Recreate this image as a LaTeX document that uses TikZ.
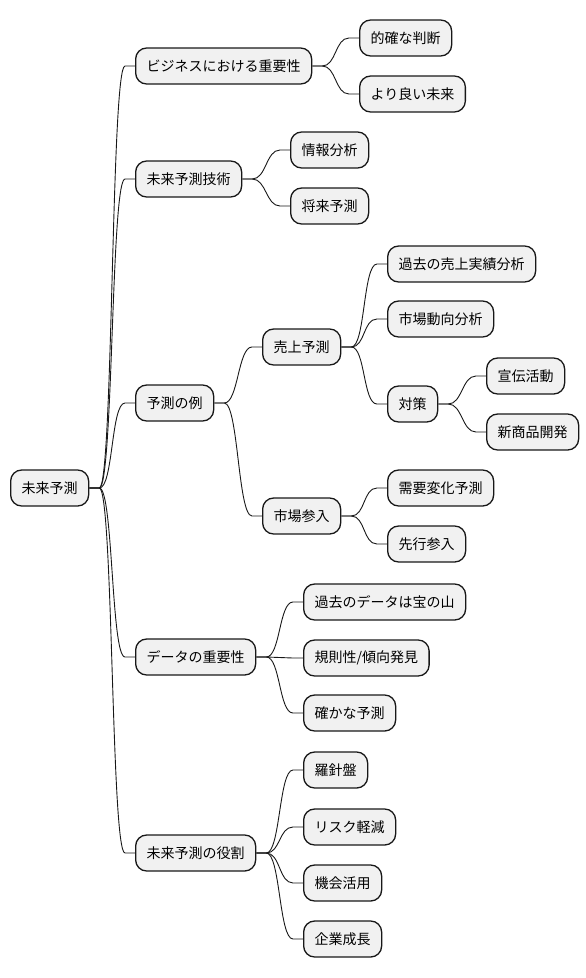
\documentclass[tikz,border=0pt]{standalone}
\usepackage{fontspec}
\setmainfont{Noto Sans CJK JP}
\definecolor{nodefill}{HTML}{F1F1F1}
\definecolor{nodeline}{HTML}{181818}
\tikzset{
  mm/.style={draw=nodeline, fill=nodefill, rounded corners=11pt, line width=1.3pt,
    minimum height=36pt, inner xsep=11pt, inner ysep=0pt,
    font=\fontsize{14pt}{17pt}\selectfont, anchor=west},
  edge/.style={draw=nodeline, line width=0.9pt}
}
\newcommand\mmconn[2]{\draw[edge] (#1.east) -- ++(10,0) .. controls +(14,0) and +(-14,0) .. ([xshift=-10pt]#2.west) -- (#2.west);}
\begin{document}
\begin{tikzpicture}[x=1pt,y=-1pt]
\path[use as bounding box] (0,0) rectangle (586,978);
\node[mm] (r) at (10,488) {未来予測};
\node[mm] (a1) at (135,66) {ビジネスにおける重要性};
\node[mm] (a2) at (135,179) {未来予測技術};
\node[mm] (a3) at (135,403) {予測の例};
\node[mm] (a4) at (135,657) {データの重要性};
\node[mm] (a5) at (135,853) {未来予測の役割};
\node[mm] (b1) at (359,38) {的確な判断};
\node[mm] (b2) at (359,94) {より良い未来};
\node[mm] (c1) at (290,150) {情報分析};
\node[mm] (c2) at (290,206) {将来予測};
\node[mm] (d1) at (262,347) {売上予測};
\node[mm] (d2) at (262,516) {市場参入};
\node[mm] (d11) at (387,264) {過去の売上実績分析};
\node[mm] (d12) at (387,319) {市場動向分析};
\node[mm] (d13) at (387,404) {対策};
\node[mm] (d131) at (486,376) {宣伝活動};
\node[mm] (d132) at (486,432) {新商品開発};
\node[mm] (d21) at (387,488) {需要変化予測};
\node[mm] (d22) at (387,544) {先行参入};
\node[mm] (e1) at (303,602) {過去のデータは宝の山};
\node[mm] (e2) at (303,658) {規則性/傾向発見};
\node[mm] (e3) at (303,713) {確かな予測};
\node[mm] (f1) at (303,770) {羅針盤};
\node[mm] (f2) at (303,827) {リスク軽減};
\node[mm] (f3) at (303,883) {機会活用};
\node[mm] (f4) at (303,939) {企業成長};
\mmconn{r}{a1}
\mmconn{r}{a2}
\mmconn{r}{a3}
\mmconn{r}{a4}
\mmconn{r}{a5}
\mmconn{a1}{b1}
\mmconn{a1}{b2}
\mmconn{a2}{c1}
\mmconn{a2}{c2}
\mmconn{a3}{d1}
\mmconn{a3}{d2}
\mmconn{d1}{d11}
\mmconn{d1}{d12}
\mmconn{d1}{d13}
\mmconn{d13}{d131}
\mmconn{d13}{d132}
\mmconn{d2}{d21}
\mmconn{d2}{d22}
\mmconn{a4}{e1}
\mmconn{a4}{e2}
\mmconn{a4}{e3}
\mmconn{a5}{f1}
\mmconn{a5}{f2}
\mmconn{a5}{f3}
\mmconn{a5}{f4}
\end{tikzpicture}
\end{document}
